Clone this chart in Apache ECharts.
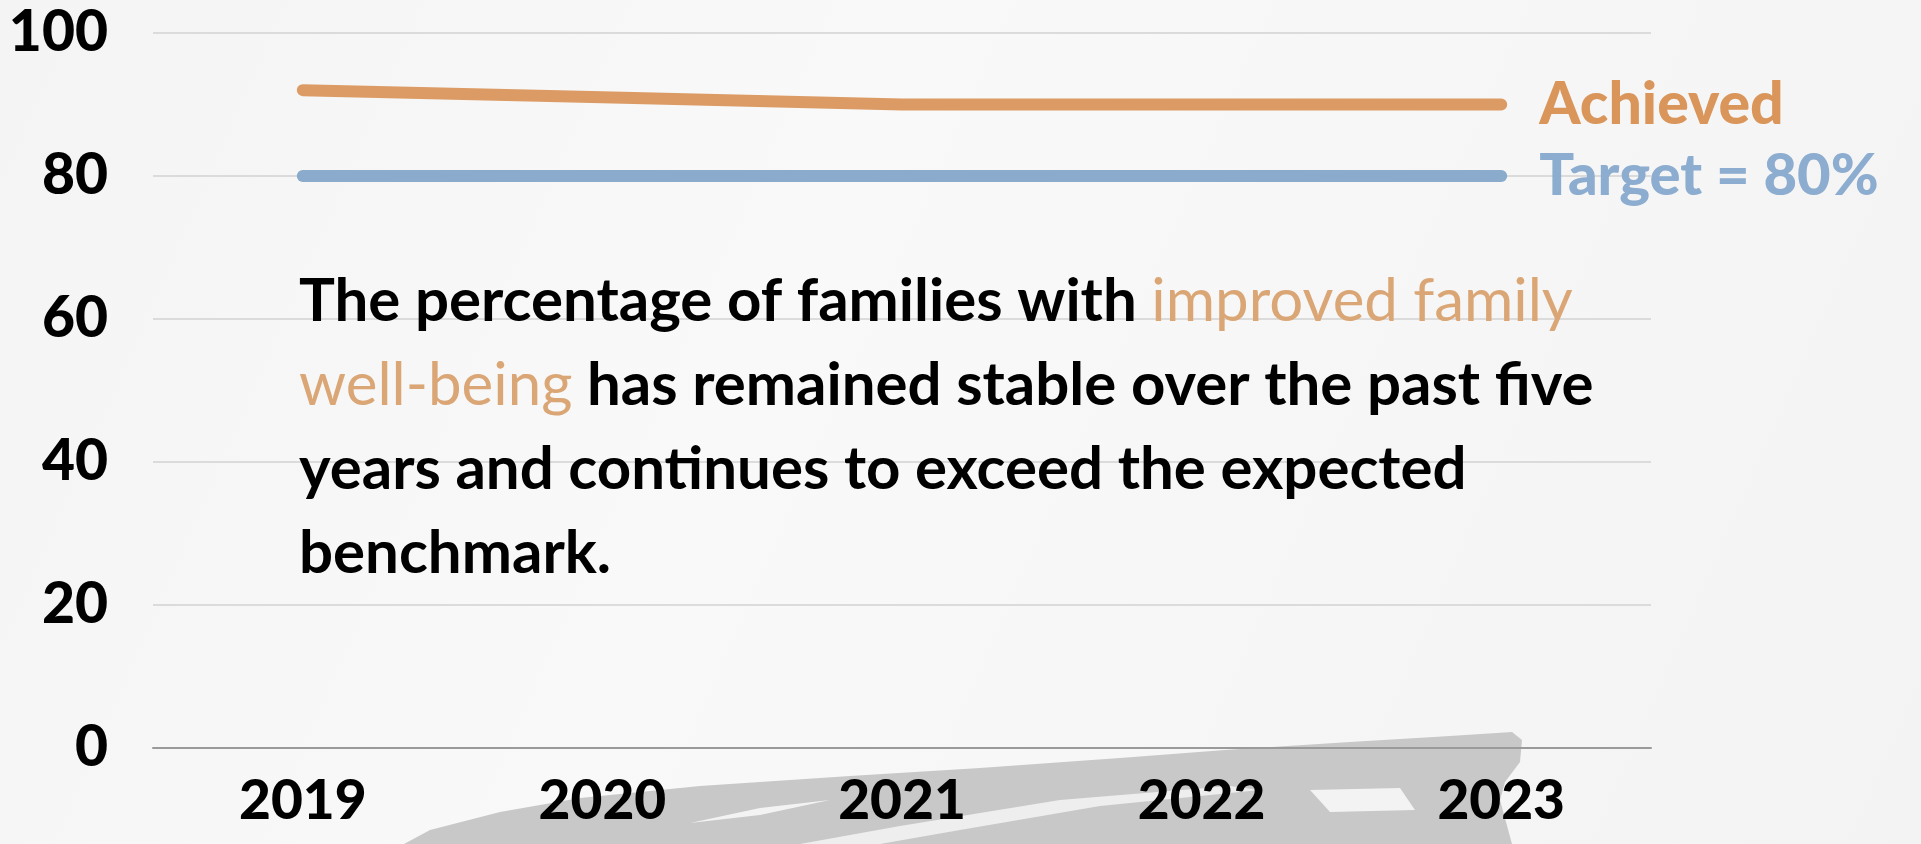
<!DOCTYPE html>
<html>
<head>
<meta charset="utf-8">
<script src="https://cdn.jsdelivr.net/npm/echarts@6/dist/echarts.min.js"></script>
<style>
html,body{margin:0;padding:0;background:#f5f5f5;}
#chart{width:1921px;height:844px;}
</style>
</head>
<body>
<div id="chart"></div>
<script>
const years = ['2019', '2020', '2021', '2022', '2023'];
const achieved = [92, 91, 90, 90, 90];
const target = [80, 80, 80, 80, 80];
const yTicks = [0, 20, 40, 60, 80, 100];
const achievedLabel = 'Achieved';
const targetLabel = 'Target = 80%';

const chart = echarts.init(document.getElementById('chart'));
const option = {
  backgroundColor: {
    type: 'linear', x: 0, y: 0, x2: 1, y2: 1,
    colorStops: [
      {offset: 0, color: '#f4f4f4'},
      {offset: 0.4, color: '#f9f9f9'},
      {offset: 1, color: '#f3f3f3'}
    ]
  },
  animation: false,
  grid: {left: 153, right: 270, top: 33, bottom: 96, containLabel: false},
  xAxis: {
    type: 'category',
    data: years,
    boundaryGap: true,
    axisLine: {show: true, lineStyle: {color: '#9a9a9a', width: 2}},
    axisTick: {show: false},
    axisLabel: {
      margin: 26,
      fontFamily: 'Lato',
      fontWeight: 900,
      fontSize: 55,
      color: '#000'
    }
  },
  yAxis: {
    type: 'value',
    min: yTicks[0],
    max: yTicks[yTicks.length - 1],
    interval: 20,
    axisLine: {show: false},
    axisTick: {show: false},
    splitLine: {lineStyle: {color: '#d2d2d2', width: 1.5}},
    axisLabel: {
      margin: 45,
      fontFamily: 'Lato',
      fontWeight: 900,
      fontSize: 57,
      color: '#000'
    }
  },
  graphic: [
    {
      type: 'polygon',
      z: -10,
      silent: true,
      shape: {points: [
        [404, 844], [430, 830], [500, 812], [580, 798], [700, 786], [850, 776],
        [980, 768], [1120, 758], [1225, 750], [1350, 742], [1450, 736], [1512, 732],
        [1522, 740], [1520, 762], [1505, 782], [1500, 800], [1512, 844]
      ]},
      style: {fill: '#c8c8c8'}
    },
    {
      type: 'polygon',
      z: -9,
      silent: true,
      shape: {points: [[690, 823], [760, 808], [830, 800], [760, 815]]},
      style: {fill: '#f3f3f3'}
    },
    {
      type: 'polygon',
      z: -9,
      silent: true,
      shape: {points: [[800, 844], [900, 826], [1060, 800], [1230, 786], [1260, 790], [1100, 806], [960, 830], [880, 844]]},
      style: {fill: '#eeeeee'}
    },
    {
      type: 'polygon',
      z: -9,
      silent: true,
      shape: {points: [[1310, 790], [1400, 788], [1415, 810], [1330, 812]]},
      style: {fill: '#f3f3f3'}
    },
    {
      type: 'text',
      left: 299,
      top: 272,
      z: 10,
      style: {
        text: '{b|The percentage of families with }{o|improved family}\n{o|well-being}{b| has remained stable over the past five}\n{b|years and continues to exceed the expected}\n{b|benchmark.}',
        rich: {
          b: {fontFamily: 'Lato', fontWeight: 'bold', fontSize: 60, lineHeight: 84, fill: '#000', color: '#000'},
          o: {fontFamily: 'Lato', fontWeight: 'normal', fontSize: 60, lineHeight: 84, fill: '#dba675', color: '#dba675'}
        }
      }
    }
  ],
  series: [
    {
      name: 'Achieved',
      type: 'line',
      data: achieved,
      symbol: 'none',
      lineStyle: {width: 12, color: '#dc9b64', cap: 'round', join: 'round'},
      endLabel: {
        show: true,
        formatter: achievedLabel,
        distance: 38,
        fontFamily: 'Lato',
        fontWeight: 900,
        fontSize: 59,
        color: '#d9955a'
      },
      z: 3
    },
    {
      name: 'Target',
      type: 'line',
      data: target,
      symbol: 'none',
      lineStyle: {width: 12, color: '#8aabcc', cap: 'round', join: 'round'},
      endLabel: {
        show: true,
        formatter: targetLabel,
        distance: 38,
        fontFamily: 'Lato',
        fontWeight: 900,
        fontSize: 58,
        color: '#8cadd0'
      },
      z: 3
    }
  ]
};
chart.setOption(option);
</script>
</body>
</html>
